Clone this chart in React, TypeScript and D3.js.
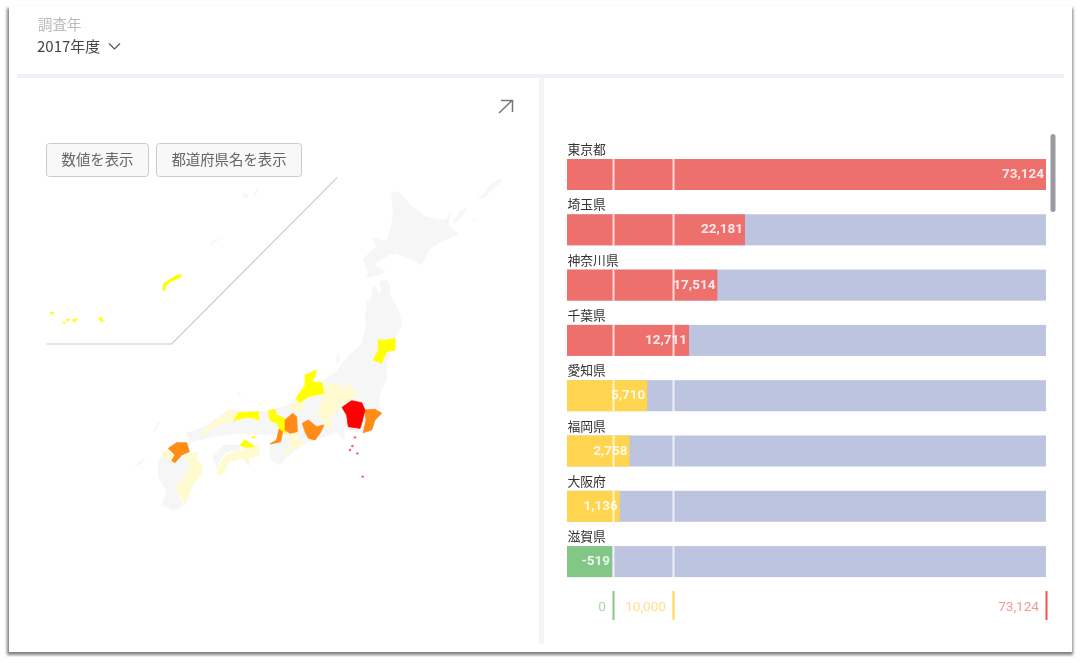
import * as d3 from "d3";

const prefectures = ["東京都", "埼玉県", "神奈川県", "千葉県", "愛知県", "福岡県", "大阪府", "滋賀県"];
const values = [73124, 22181, 17514, 12711, 5710, 2758, 1136, -519];
const breakValues = [0, 10000, 73124];
const breakLabels = ["0", "10,000", "73,124"];

const buttonLabels = ["数値を表示", "都道府県名を表示"];

// map shapes, traced by eye in map units (1 unit = 1/3 px)
type Pt = [number, number];
const grayShapes: Pt[][] = [
  // hokkaido
  [[790,65],[810,70],[840,105],[885,140],[930,150],[950,150],[960,130],[955,165],[985,193],[955,205],[925,220],[895,240],[875,285],[840,265],[800,250],[775,255],[735,280],[740,290],[765,305],[745,315],[720,320],[710,325],[715,305],[700,270],[720,245],[740,230],[730,205],[770,215],[785,165],[790,125],[785,75]],
  // honshu
  [[730,350],[740,355],[745,370],[755,365],[750,335],[770,330],[780,345],[778,375],[795,400],[810,435],[815,465],[795,505],[770,580],[768,630],[750,670],[745,700],[755,725],[700,790],[640,775],[645,810],[632,800],[620,785],[582,800],[555,810],[525,820],[510,830],[470,860],[450,885],[425,870],[418,840],[420,825],[440,800],[430,795],[320,790],[250,800],[180,815],[170,790],[225,770],[295,720],[400,725],[480,705],[498,685],[570,640],[620,605],[640,575],[675,540],[695,525],[710,465],[705,435],[712,415],[710,395],[725,385]],
  // shikoku
  [[250,860],[280,825],[330,825],[330,840],[290,845],[265,875],[262,900]],
  // kyushu
  [[95,860],[125,875],[165,860],[180,890],[165,920],[135,955],[160,1005],[130,1022],[95,1005],[110,960],[85,920],[85,870]],
  // kurils and small islands
  [[1110,27],[1080,45],[1060,75],[1045,85],[1055,87],[1085,60],[1115,33]],
  [[1005,115],[985,130],[970,160],[980,155],[1010,120]],
  [[1035,150],[1025,155],[1040,147]],
  [[620,565],[627,555],[628,572],[620,580]],
  [[85,755],[70,782],[76,782],[90,757]],
  [[15,885],[45,865],[30,882]],
  [[240,225],[270,207],[250,212]],
  [[385,50],[372,75],[380,70]],
  [[340,72],[352,70],[352,82],[342,82]],
];
const paleShapes: Pt[][] = [
  [[262,910],[268,885],[290,855],[335,840],[385,825],[388,855],[355,865],[358,888],[340,865],[300,875],[275,915]],
  [[95,845],[118,840],[135,855],[125,870],[105,865]],
  [[165,855],[205,845],[200,870],[218,885],[215,910],[185,950],[165,1005],[150,975],[135,955],[165,920],[180,890]],
  [[220,795],[225,775],[260,750],[295,720],[325,728],[312,752],[280,760],[245,775],[230,795]],
  [[480,790],[500,790],[505,815],[525,820],[510,830],[485,835],[465,860],[460,852],[485,825],[480,805]],
  [[480,705],[500,690],[525,705],[515,720],[485,720]],
  [[585,640],[630,645],[640,655],[665,645],[678,680],[640,700],[630,715],[600,740],[600,780],[580,760],[562,720],[575,700]],
  [[322,672],[332,668],[328,676]],
];
const yellowShapes: Pt[][] = [
  [[745,510],[770,510],[795,505],[795,540],[770,545],[755,580],[730,570],[745,540]],
  [[525,615],[560,600],[555,620],[545,635],[575,638],[582,670],[535,680],[510,698],[498,685],[525,645]],
  [[312,752],[325,728],[385,725],[388,750],[360,742],[335,745]],
  [[415,722],[435,718],[440,735],[465,745],[465,770],[470,792],[450,780],[440,760],[420,750]],
  [[330,825],[345,810],[375,830],[345,832]],
  [[365,800],[375,800],[372,806]],
  [[98,360],[102,340],[125,325],[150,312],[155,318],[135,330],[120,335],[106,350],[105,360]],
  [[-240,427],[-228,428],[-236,433]],
  [[-192,449],[-180,448],[-186,454]],
  [[-174,450],[-158,445],[-166,456]],
  [[-95,445],[-86,442],[-80,455],[-88,452]],
  [[-200,455],[-194,458],[-198,462]],
];
const orangeShapes: Pt[][] = [
  [[420,822],[440,810],[447,778],[458,785],[452,815]],
  [[465,750],[488,730],[500,740],[502,785],[480,790],[465,780]],
  [[517,760],[535,750],[560,770],[582,765],[570,790],[555,810],[535,805],[525,785]],
  [[705,720],[735,718],[755,730],[735,750],[725,780],[700,788],[708,750]],
  [[115,835],[140,818],[170,818],[178,845],[155,855],[135,878],[125,872],[135,855]],
];
const redShapes: Pt[][] = [
  [[636,712],[665,692],[695,698],[705,720],[695,760],[690,775],[655,770],[650,735]],
];
const izuDots: Pt[] = [[675,802],[667,828],[660,840],[682,850],[698,920]];
const insetLine: Pt[] = [[622,22],[125,522],[-250,522]];

const mapX = d3.scaleLinear().domain([0, 1170]).range([130, 520]);
const mapY = d3.scaleLinear().domain([0, 1050]).range([170, 520]);
const closedShape = d3.line<Pt>().x((d) => mapX(d[0])).y((d) => mapY(d[1])).curve(d3.curveLinearClosed);
const openLine = d3.line<Pt>().x((d) => mapX(d[0])).y((d) => mapY(d[1]));

const shapeGroups: [Pt[][], string][] = [
  [grayShapes, "#f6f6f6"],
  [paleShapes, "#fffad0"],
  [yellowShapes, "#ffff00"],
  [orangeShapes, "#ff8c14"],
  [redShapes, "#ff0000"],
];

// the bar scale has a break at each threshold
const x = d3.scaleLinear().domain([-7600, 0, 10000, 73124]).range([567, 613, 673, 1046]);
const fmt = (v: number) => d3.format(",")(v).replace("−", "-");

function barColor(v: number) {
  if (v <= 0) return "#82c785";
  if (v <= 10000) return "#ffd54f";
  return "#ed6f6d";
}
const tickColors = ["#82c785", "#ffd54f", "#ef5350"];
const tickTextColors = ["#a9d8ab", "#ffe08a", "#f29a9a"];

const jp = "'Noto Sans CJK JP', sans-serif";
const num = "Roboto, sans-serif";

export default function App() {
  const barH = 31;
  const step = 55.3;
  return (
    <svg width={1081} height={663} style={{ position: "absolute", left: 0, top: 0 }}>
      <defs>
        <filter id="soft" x="-5%" y="-5%" width="110%" height="110%">
          <feGaussianBlur stdDeviation="1.5" />
        </filter>
        <filter id="blur" x="0" y="0" width="100%" height="100%">
          <feGaussianBlur stdDeviation="0.5" />
        </filter>
      </defs>
      <rect width={1081} height={663} fill="#fff" />
      <rect x={7} y={8} width={1066} height={647} fill="#808080" filter="url(#soft)" />
      <g filter="url(#blur)">
        <rect x={9} y={6} width={1063} height={646} fill="#fff" />
        <rect x={17} y={74} width={1047} height={4} fill="#f0f0f8" />
        <rect x={539} y={78} width={5} height={566} fill="#f4f4f9" />

        <text x={38} y={30} fontFamily={jp} fontSize={14.5} fill="#bbb">調査年</text>
        <text x={37} y={52} fontFamily={jp} fontSize={15} fill="#444">2017年度</text>
        <path d="M109,43.5 L114.5,49 L120,43.5" fill="none" stroke="#555" strokeWidth={1.2} />
        <path d="M499,113 L512.5,100 M501,100.5 L512.5,100.5 L512.5,112" fill="none" stroke="#777" strokeWidth={1.5} />

        {buttonLabels.map((label, i) => {
          const bx = [46.5, 156.5][i];
          const bw = [102, 145][i];
          return (
            <g key={label}>
              <rect x={bx} y={143.5} width={bw} height={33} rx={3} fill="#f8f8f8" stroke="#ccc" />
              <text x={bx + bw / 2} y={165} textAnchor="middle" fontFamily={jp} fontSize={14.4} fill="#666">{label}</text>
            </g>
          );
        })}

        {shapeGroups.map(([shapes, color], i) => (
          <g key={i} fill={color} stroke={color} strokeWidth={0.8} strokeLinejoin="round">
            {shapes.map((s, j) => <path key={j} d={closedShape(s) ?? ""} />)}
          </g>
        ))}
        {izuDots.map((d, i) => (
          <circle key={i} cx={mapX(d[0])} cy={mapY(d[1])} r={1.2} fill="#ff5a5a" />
        ))}
        <path d={openLine(insetLine) ?? ""} fill="none" stroke="#ccc" strokeWidth={1.2} />

        {prefectures.map((p, i) => {
          const v = values[i];
          const top = 159 + i * step;
          const end = v <= 0 ? x(0) - 1 : x(v);
          return (
            <g key={p}>
              <text x={567.5} y={top - 5} fontFamily={jp} fontSize={12.8} fill="#333">{p}</text>
              <rect x={567} y={top} width={1046 - 567} height={barH} fill="#bdc4e0" />
              <rect x={567} y={top} width={end - 567} height={barH} fill={barColor(v)} />
              <text x={end - 2} y={top + 19} textAnchor="end" fontFamily={num} fontSize={13.5} fontWeight={700} fill="#fff" fillOpacity={0.85}>{fmt(v)}</text>
              {breakValues.slice(0, 2).map((b) => (
                <rect key={b} x={x(b) - 0.5} y={top} width={2} height={barH} fill="#fff" fillOpacity={0.75} />
              ))}
            </g>
          );
        })}

        {breakValues.map((b, i) => (
          <g key={b}>
            <rect x={x(b) - 0.5} y={591} width={2} height={29} fill={tickColors[i]} />
            <text x={x(b) - 7} y={610.5} textAnchor="end" fontFamily={num} fontSize={13.6} fill={tickTextColors[i]}>{breakLabels[i]}</text>
          </g>
        ))}

        <rect x={1050.5} y={134} width={5} height={78} rx={2.5} fill="#9b9ba1" />
      </g>
    </svg>
  );
}
